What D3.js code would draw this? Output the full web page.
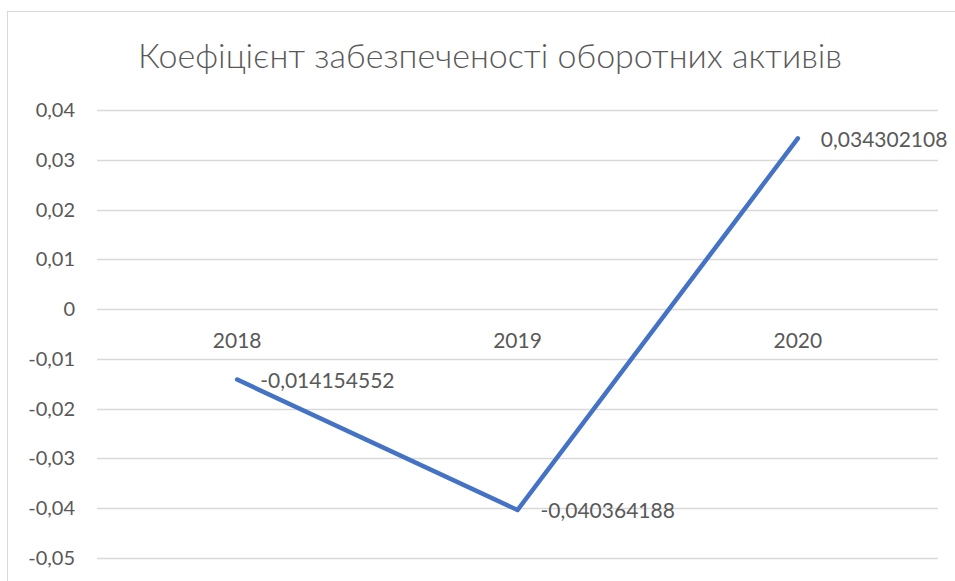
<!DOCTYPE html>
<html>
<head>
<meta charset="utf-8">
<script src="https://cdn.jsdelivr.net/npm/d3@7"></script>
<style>
  body { margin: 0; background: #fff; }
  text { font-family: Lato, "Open Sans", sans-serif; fill: #595959; }
</style>
</head>
<body>
<div id="chart"></div>
<script>
const WIDTH = 955, HEIGHT = 581;
const TITLE = "Коефіцієнт забезпеченості оборотних активів";
const years = ["2018", "2019", "2020"];
const values = [-0.014154552, -0.040364188, 0.034302108];
const valueLabels = ["-0,014154552", "-0,040364188", "0,034302108"];
const yTicks = [0.04, 0.03, 0.02, 0.01, 0, -0.01, -0.02, -0.03, -0.04, -0.05];

const PLOT_LEFT = 97, PLOT_RIGHT = 938, PLOT_TOP = 110, PLOT_BOT = 558;

const svg = d3.select("#chart").append("svg")
    .attr("width", WIDTH)
    .attr("height", HEIGHT);

// chart frame
svg.append("rect")
    .attr("x", 7.5).attr("y", 11.5)
    .attr("width", 1000).attr("height", 1000)
    .attr("fill", "none")
    .attr("stroke", "#d9d9d9")
    .attr("stroke-width", 1);

const x = d3.scaleBand()
    .domain(years)
    .range([PLOT_LEFT, PLOT_RIGHT]);

const y = d3.scaleLinear()
    .domain([-0.05, 0.04])
    .range([PLOT_BOT, PLOT_TOP]);

const fmt = v => v === 0 ? "0" : d3.format(".2f")(v).replace(".", ",").replace("−", "-");

// gridlines
svg.append("g")
    .selectAll("line")
    .data(yTicks)
    .join("line")
    .attr("x1", PLOT_LEFT).attr("x2", PLOT_RIGHT)
    .attr("y1", d => Math.round(y(d)) + 0.5)
    .attr("y2", d => Math.round(y(d)) + 0.5)
    .attr("stroke", "#d9d9d9")
    .attr("stroke-width", 1.3);

// y tick labels
svg.append("g")
    .selectAll("text")
    .data(yTicks)
    .join("text")
    .attr("x", 75)
    .attr("y", d => y(d))
    .attr("dy", "0.35em")
    .attr("text-anchor", "end")
    .style("font-size", "20px")
    .text(fmt);

// category labels sit just below the zero line
svg.append("g")
    .selectAll("text")
    .data(years)
    .join("text")
    .attr("x", d => x(d) + x.bandwidth() / 2)
    .attr("y", y(0) + 32)
    .attr("dy", "0.35em")
    .attr("text-anchor", "middle")
    .style("font-size", "21px")
    .text(d => d);

// the series line
const line = d3.line()
    .x((d, i) => x(years[i]) + x.bandwidth() / 2)
    .y(d => y(d));

svg.append("path")
    .datum(values)
    .attr("d", line)
    .attr("fill", "none")
    .attr("stroke", "#4472c4")
    .attr("stroke-width", 4.5)
    .attr("stroke-linejoin", "round")
    .attr("stroke-linecap", "round");

// data labels
svg.append("g")
    .selectAll("text")
    .data(values)
    .join("text")
    .attr("x", (d, i) => x(years[i]) + x.bandwidth() / 2 + 23)
    .attr("y", d => y(d) + 1)
    .attr("dy", "0.35em")
    .style("font-size", "21px")
    .text((d, i) => valueLabels[i]);

// title
svg.append("text")
    .attr("x", 490)
    .attr("y", 68)
    .attr("text-anchor", "middle")
    .style("font-size", "34px")
    .style("font-weight", 300)
    .text(TITLE);
</script>
</body>
</html>
